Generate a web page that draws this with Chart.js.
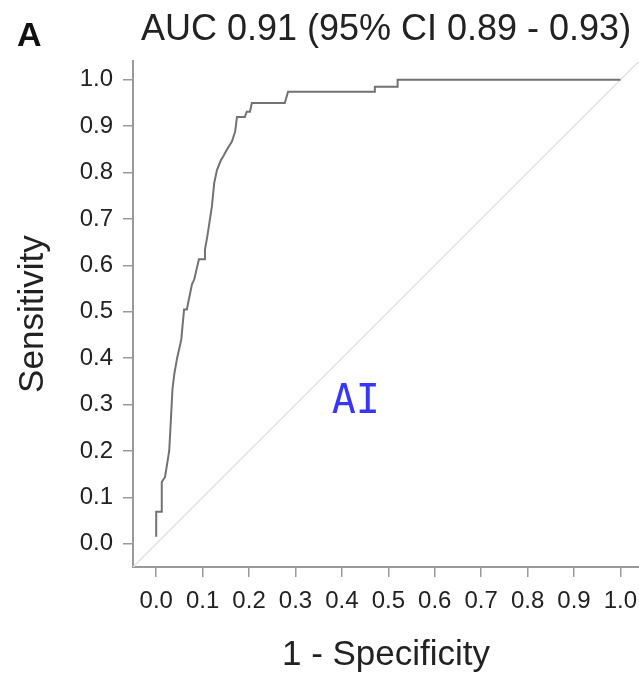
<!DOCTYPE html>
<html>
<head>
<meta charset="utf-8">
<script src="https://cdn.jsdelivr.net/npm/chart.js@4.4.0/dist/chart.umd.min.js"></script>
<style>
  html, body { margin: 0; padding: 0; background: #fff; }
</style>
</head>
<body>
<canvas id="roc" width="639" height="676"></canvas>
<script>
// ROC curve vertices (1 - specificity, sensitivity)
const rocFpr = [0, 0, 0.012, 0.012, 0.019, 0.028, 0.032, 0.035, 0.039, 0.045, 0.054, 0.06, 0.066,
  0.077, 0.082, 0.092, 0.105, 0.105, 0.11, 0.12, 0.125, 0.131, 0.14, 0.144, 0.152, 0.163, 0.17,
  0.174, 0.191, 0.195, 0.202, 0.206, 0.277, 0.284, 0.471, 0.471, 0.52, 0.52, 1.0];
const rocTpr = [0.015, 0.069, 0.069, 0.133, 0.144, 0.2, 0.275, 0.333, 0.366, 0.4, 0.44, 0.505, 0.505,
  0.559, 0.57, 0.613, 0.613, 0.634, 0.662, 0.727, 0.778, 0.806, 0.828, 0.834, 0.849, 0.867, 0.888,
  0.92, 0.92, 0.931, 0.931, 0.95, 0.95, 0.974, 0.974, 0.985, 0.985, 1.0, 1.0];

// chance diagonal, across the whole plot region
const chanceX = [-0.05, 1.04];
const chanceY = [-0.05, 1.04];

const tickValues = [0, 0.1, 0.2, 0.3, 0.4, 0.5, 0.6, 0.7, 0.8, 0.9, 1.0];

const titleText = "AUC 0.91 (95% CI 0.89 - 0.93)";
const panelLetter = "A";
const stampText = "AI";

const family = "'Liberation Sans', Arial, Helvetica, sans-serif";
const axisGray = "#9a9a9a";
const textColor = "#222";

const toPoints = (xs, ys) => xs.map((x, i) => ({ x, y: ys[i] }));

const annotations = {
  id: "annotations",
  afterDraw(chart) {
    const { ctx, scales: { x, y } } = chart;
    ctx.save();
    ctx.fillStyle = "#111";
    ctx.font = "bold 34px " + family;
    ctx.textAlign = "left";
    ctx.textBaseline = "alphabetic";
    ctx.fillText(panelLetter, 17, 46);

    ctx.fillStyle = "#3737f5";
    ctx.font = "40px 'DejaVu Sans Mono', monospace";
    ctx.textAlign = "center";
    ctx.textBaseline = "middle";
    ctx.fillText(stampText, x.getPixelForValue(0.43), y.getPixelForValue(0.305));
    ctx.restore();
  }
};

function axisOptions(axisTitle, fit) {
  return {
    type: "linear",
    min: -0.05,
    max: 1.04,
    afterBuildTicks: s => { s.ticks = tickValues.map(v => ({ value: v })); },
    afterFit: s => {
      fit(s);
      s.paddingLeft = s.paddingRight = s.paddingTop = s.paddingBottom = 0;
    },
    border: { display: true, color: axisGray, width: 2 },
    grid: { drawOnChartArea: false, drawTicks: true, tickLength: 10, lineWidth: 1.5, color: axisGray },
    ticks: {
      padding: 10,
      color: textColor,
      autoSkip: false,
      maxRotation: 0,
      font: { size: 24, family },
      callback: v => v.toFixed(1)
    },
    title: {
      display: true,
      text: axisTitle,
      color: textColor,
      font: { size: 35, family },
      padding: { top: 12, bottom: 0 }
    }
  };
}

new Chart(document.getElementById("roc"), {
  type: "scatter",
  data: {
    datasets: [
      {
        data: toPoints(rocFpr, rocTpr),
        showLine: true,
        borderColor: "#727272",
        borderWidth: 2,
        pointRadius: 0
      },
      {
        data: toPoints(chanceX, chanceY),
        showLine: true,
        borderColor: "#e2e2e2",
        borderWidth: 1.5,
        pointRadius: 0
      }
    ]
  },
  options: {
    responsive: false,
    animation: false,
    layout: { padding: 0 },
    plugins: {
      legend: { display: false },
      tooltip: { enabled: false },
      title: {
        display: true,
        text: titleText,
        fullSize: false,
        color: textColor,
        font: { size: 36, family, weight: "normal" },
        padding: { top: 8, bottom: 10 }
      }
    },
    scales: {
      x: axisOptions("1 - Specificity", s => { s.height = 109; }),
      y: axisOptions("Sensitivity", s => { s.width = 133; })
    }
  },
  plugins: [annotations]
});
</script>
</body>
</html>
